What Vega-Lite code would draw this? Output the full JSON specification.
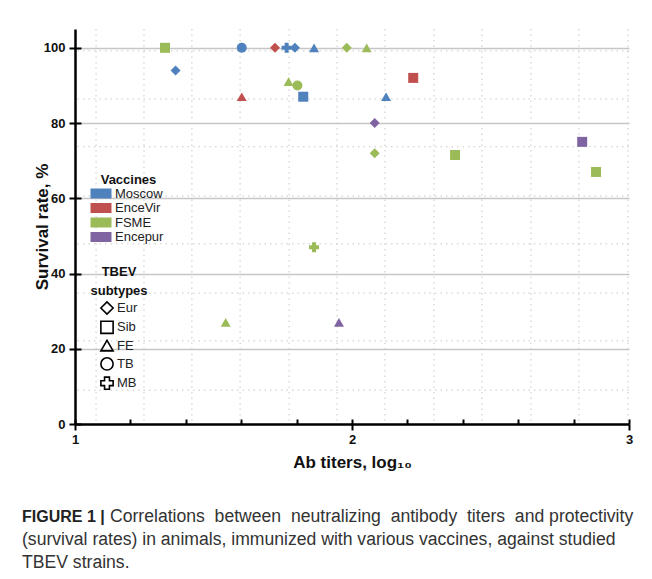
{
  "$schema": "https://vega.github.io/schema/vega-lite/v6.json",
  "width": 554,
  "height": 395,
  "autosize": {"type": "none"},
  "padding": {"left": 75, "top": 29, "right": 23, "bottom": 155},
  "background": "white",
  "config": {
    "font": "Liberation Sans",
    "view": {"stroke": null},
    "legend": {"symbolBaseFillColor": "transparent", "symbolBaseStrokeColor": "black"}
  },
  "datasets": {
    "points": [
      {"vaccine": "FSME", "subtype": "Sib", "titer": 1.325, "survival": 100},
      {"vaccine": "Moscow", "subtype": "Eur", "titer": 1.363, "survival": 94},
      {"vaccine": "Moscow", "subtype": "TB", "titer": 1.602, "survival": 100},
      {"vaccine": "EnceVir", "subtype": "Eur", "titer": 1.722, "survival": 100},
      {"vaccine": "Moscow", "subtype": "MB", "titer": 1.764, "survival": 100},
      {"vaccine": "Moscow", "subtype": "Eur", "titer": 1.794, "survival": 100},
      {"vaccine": "Moscow", "subtype": "FE", "titer": 1.863, "survival": 100},
      {"vaccine": "FSME", "subtype": "Eur", "titer": 1.981, "survival": 100},
      {"vaccine": "FSME", "subtype": "FE", "titer": 1.771, "survival": 91},
      {"vaccine": "FSME", "subtype": "TB", "titer": 1.803, "survival": 90},
      {"vaccine": "EnceVir", "subtype": "FE", "titer": 1.602, "survival": 87},
      {"vaccine": "Moscow", "subtype": "Sib", "titer": 1.824, "survival": 87},
      {"vaccine": "FSME", "subtype": "FE", "titer": 2.053, "survival": 100},
      {"vaccine": "EnceVir", "subtype": "Sib", "titer": 2.221, "survival": 92},
      {"vaccine": "Moscow", "subtype": "FE", "titer": 2.123, "survival": 87},
      {"vaccine": "Encepur", "subtype": "Eur", "titer": 2.082, "survival": 80},
      {"vaccine": "FSME", "subtype": "Eur", "titer": 2.082, "survival": 72},
      {"vaccine": "FSME", "subtype": "Sib", "titer": 2.372, "survival": 71.5},
      {"vaccine": "Encepur", "subtype": "Sib", "titer": 2.831, "survival": 75},
      {"vaccine": "FSME", "subtype": "Sib", "titer": 2.881, "survival": 67},
      {"vaccine": "FSME", "subtype": "MB", "titer": 1.863, "survival": 47},
      {"vaccine": "FSME", "subtype": "FE", "titer": 1.544, "survival": 27},
      {"vaccine": "Encepur", "subtype": "FE", "titer": 1.953, "survival": 27}
    ],
    "gridX": [
      {"v": 1.076}, {"v": 1.249}, {"v": 1.422}, {"v": 1.596}, {"v": 1.773}, {"v": 1.946},
      {"v": 2.119}, {"v": 2.296}, {"v": 2.469}, {"v": 2.646}, {"v": 2.819}, {"v": 2.996}
    ],
    "gridY": [
      {"v": 9.0}, {"v": 22.1}, {"v": 34.8}, {"v": 47.9}, {"v": 60.6}, {"v": 73.7}, {"v": 86.4}, {"v": 99.2}
    ]
  },
  "title": {
    "text": "FIGURE 1 |",
    "subtitle": [
      "\u200b\u00a0\u00a0\u00a0\u00a0\u00a0\u00a0\u00a0\u00a0\u00a0\u00a0\u00a0\u00a0\u00a0\u00a0\u00a0\u00a0\u00a0\u00a0Correlations \u00a0between \u00a0neutralizing \u00a0antibody \u00a0titers \u00a0and protectivity",
      "(survival rates) in animals, immunized with various vaccines, against studied",
      "TBEV strains."
    ],
    "orient": "bottom",
    "anchor": "start",
    "frame": "group",
    "dx": -53,
    "offset": 39,
    "font": "Liberation Sans",
    "fontSize": 16,
    "fontWeight": "bold",
    "color": "#222222",
    "subtitleFont": "Liberation Sans",
    "subtitleFontSize": 17.6,
    "subtitleColor": "#333333",
    "subtitleLineHeight": 23,
    "subtitlePadding": -17.3
  },
  "resolve": {"axis": {"x": "independent", "y": "independent"}},
  "layer": [
    {
      "data": {"name": "gridX"},
      "mark": {"type": "rule", "stroke": "#c8c8c8", "strokeWidth": 1, "strokeDash": [1.5, 4]},
      "encoding": {
        "x": {
          "field": "v", "type": "quantitative",
          "scale": {"domain": [1, 3], "nice": false, "zero": false},
          "axis": {
            "orient": "bottom", "values": [1, 1.2, 1.4, 1.6, 1.8, 2, 2.2, 2.4, 2.6, 2.8, 3],
            "offset": -5, "tickSize": 5, "tickWidth": 2, "tickColor": "black",
            "labels": false, "domain": false, "grid": false, "title": null
          }
        }
      }
    },
    {
      "data": {"name": "gridY"},
      "mark": {"type": "rule", "stroke": "#c8c8c8", "strokeWidth": 1, "strokeDash": [1.5, 4]},
      "encoding": {
        "y": {
          "field": "v", "type": "quantitative",
          "scale": {"domain": [0, 105], "nice": false},
          "axis": {
            "orient": "left", "values": [0, 20, 40, 60, 80, 100],
            "offset": -6, "tickSize": 6, "tickWidth": 2, "tickColor": "black",
            "labels": false, "domain": false, "grid": false, "title": null
          }
        }
      }
    },
    {
      "data": {"name": "points"},
      "mark": {"type": "point", "filled": true, "opacity": 1, "size": 100},
      "encoding": {
        "x": {
          "field": "titer", "type": "quantitative",
          "scale": {"domain": [1, 3], "nice": false, "zero": false},
          "axis": {
            "orient": "bottom", "values": [1, 2, 3], "format": ".0f",
            "tickSize": 6, "tickWidth": 2, "tickColor": "black",
            "domainColor": "black", "domainWidth": 2.5,
            "grid": false,
            "labelFontSize": 13, "labelFontWeight": "bold", "labelColor": "#111111",
            "labelPadding": 3, "labelFlush": false, "labelOverlap": false, "labelBound": false,
            "title": "Ab titers, log\u2081\u2080",
            "titleFontSize": 17, "titleFontWeight": "bold", "titleColor": "#111111",
            "titlePadding": 8
          }
        },
        "y": {
          "field": "survival", "type": "quantitative",
          "scale": {"domain": [0, 105], "nice": false},
          "axis": {
            "orient": "left", "values": [0, 20, 40, 60, 80, 100],
            "tickSize": 6, "tickWidth": 2, "tickColor": "black",
            "domainColor": "black", "domainWidth": 2.5,
            "grid": true, "gridColor": "#c6c6c6", "gridWidth": 1.5,
            "labelFontSize": 13, "labelFontWeight": "bold", "labelColor": "#111111",
            "labelPadding": 4, "labelFlush": false, "labelOverlap": false,
            "title": "Survival rate, %",
            "titleFontSize": 17, "titleFontWeight": "bold", "titleColor": "#111111",
            "titlePadding": -8
          }
        },
        "color": {
          "field": "vaccine", "type": "nominal",
          "scale": {
            "domain": ["Moscow", "EnceVir", "FSME", "Encepur"],
            "range": ["#4F81BD", "#C0504D", "#9BBB59", "#8064A2"]
          },
          "legend": {
            "orient": "none", "legendX": 19.5, "legendY": 145,
            "title": "Vaccines", "titleFontSize": 13, "titleFontWeight": "bold", "titleColor": "#111111",
            "titleAnchor": "middle", "titleAlign": "center", "titlePadding": 0,
            "symbolType": "M-2.1,-1H2.1V1H-2.1Z", "symbolSize": 100,
            "labelFontSize": 13, "labelColor": "#222222", "labelOffset": 7.5,
            "rowPadding": 0.5,
            "encode": {
              "symbols": {
                "update": {
                  "stroke": {"value": "rgba(0,0,0,0.35)"},
                  "strokeWidth": {"value": 1},
                  "opacity": {"value": 1}
                }
              }
            }
          }
        },
        "shape": {
          "field": "subtype", "type": "nominal",
          "scale": {
            "domain": ["Eur", "Sib", "FE", "TB", "MB"],
            "range": ["diamond", "square", "triangle-up", "circle", "cross"]
          },
          "legend": {
            "orient": "none", "legendX": 15, "legendY": 237,
            "title": ["TBEV", "subtypes"], "titleFontSize": 13, "titleFontWeight": "bold", "titleColor": "#111111",
            "titleAnchor": "middle", "titleAlign": "center", "titleLineHeight": 19, "titlePadding": 3,
            "symbolSize": 150,
            "symbolFillColor": "transparent", "symbolStrokeColor": "black", "symbolStrokeWidth": 1.6,
            "labelFontSize": 13, "labelColor": "#222222", "labelOffset": 3,
            "rowPadding": -0.7,
            "encode": {
              "symbols": {
                "update": {
                  "fill": {"value": "transparent"},
                  "stroke": {"value": "black"},
                  "strokeWidth": {"value": 1.6},
                  "opacity": {"value": 1}
                }
              }
            }
          }
        }
      }
    }
  ]
}
